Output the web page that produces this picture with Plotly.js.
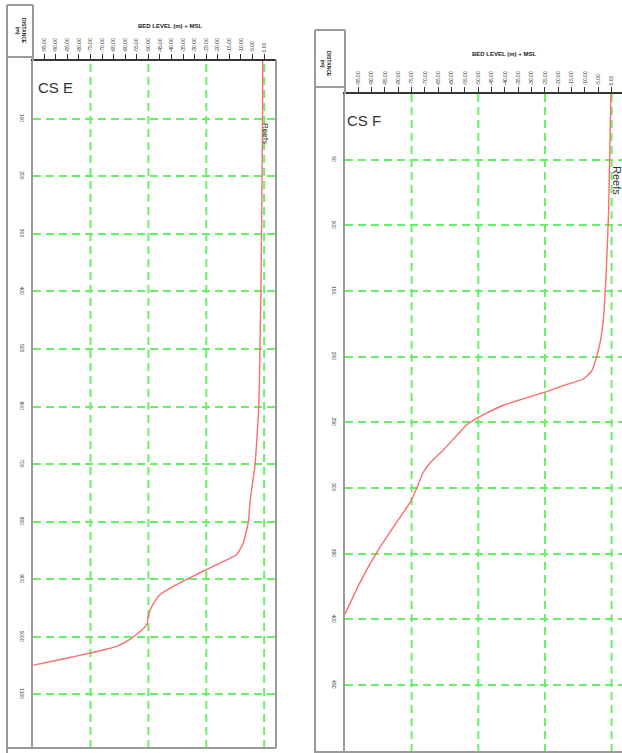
<!DOCTYPE html>
<html>
<head>
<meta charset="utf-8">
<script src="https://cdn.plot.ly/plotly-3.0.1.min.js"></script>
<style>html,body{margin:0;padding:0;background:#fff;}#chart{width:622px;height:753px;}</style>
</head>
<body>
<div id="chart"></div>
<script>
// ---- data ----
const levelTicks = [-95,-90,-85,-80,-75,-70,-65,-60,-55,-50,-45,-40,-35,-30,-25,-20,-15,-10,-5,0];
const levelGrid = [-75,-50,-25,0];
const distTicksE = [100,200,300,400,500,600,700,800,900,1000,1100];
const distTicksF = [50,100,150,200,250,300,350,400,450];

const csE_dist  = [0, 100, 200, 300, 400, 500, 600, 700, 762, 800, 836, 857, 869, 883, 897, 912, 926, 941, 961, 978, 990, 1004, 1016, 1028, 1038, 1049];
const csE_level = [-0.6, -0.7, -0.9, -1.1, -1.4, -1.8, -2.3, -3.9, -6.0, -6.8, -8.9, -11.8, -17.5, -24.7, -31.9, -39.1, -44.8, -47.7, -49.9, -50.6, -53.4, -57.8, -63.5, -75.0, -86.5, -99.6];

const csF_dist  = [0, 88, 130, 172, 187, 200, 211, 217, 222, 227, 232, 237, 243, 247, 252, 260, 271, 281, 288, 300, 311, 326, 349, 372, 396];
const csF_level = [-0.25, -1.1, -1.9, -3.1, -4.1, -5.6, -7.5, -10.6, -18.1, -25.0, -33.1, -40.6, -46.9, -50.6, -54.4, -58.1, -63.1, -68.1, -70.6, -73.1, -75.6, -80.6, -88.1, -94.4, -100.0];

// ---- layout helpers ----
const W = 622, H = 753;
const px = v => v / W;
const py = v => 1 - v / H;
const GREEN = '#66f066';
const RED = '#ff6b6b';
const FRAME = '#9a9a9a';
const DASH = '8px,5px';
const fmt = v => v.toFixed(2);

const traces = [
  {x: csE_level, y: csE_dist, xaxis: 'x', yaxis: 'y', mode: 'lines',
   line: {color: RED, width: 1.4, shape: 'spline', smoothing: 0.4}, hoverinfo: 'skip'},
  {x: csF_level, y: csF_dist, xaxis: 'x2', yaxis: 'y2', mode: 'lines',
   line: {color: RED, width: 1.4, shape: 'spline', smoothing: 0.5}, hoverinfo: 'skip'}
];

function xAx(domain, range, anchor) {
  return {domain: domain, range: range, anchor: anchor, side: 'top',
    tickmode: 'array', tickvals: levelTicks, ticktext: levelTicks.map(fmt),
    tickangle: -90, tickfont: {size: 5, color: '#333', family: 'Liberation Sans, Arial'},
    ticks: 'outside', ticklen: 5, tickcolor: '#333', tickwidth: 1,
    showline: true, linecolor: '#333', linewidth: 2.5,
    showgrid: false, zeroline: false, fixedrange: true};
}
function yAx(domain, range, anchor, vals) {
  return {domain: domain, range: range, anchor: anchor,
    tickmode: 'array', tickvals: vals, ticktext: vals.map(String),
    tickangle: 90, tickfont: {size: 5, color: '#333', family: 'Liberation Sans, Arial'},
    ticks: 'outside', ticklen: 5, tickcolor: 'rgba(0,0,0,0)',
    showline: true, linecolor: FRAME, linewidth: 2,
    showgrid: true, gridcolor: GREEN, gridwidth: 2, griddash: DASH,
    zeroline: false, fixedrange: true};
}

const shapes = [];
levelGrid.forEach(v => {
  ['x','x2'].forEach((ax, i) => {
    shapes.push({type: 'line', xref: ax, yref: (i === 0 ? 'y' : 'y2') + ' domain',
      x0: v, x1: v, y0: 0, y1: 1, layer: 'below',
      line: {color: GREEN, width: 2, dash: DASH}});
  });
});
function seg(x0, y0, x1, y1, w) {
  shapes.push({type: 'line', xref: 'paper', yref: 'paper',
    x0: px(x0), x1: px(x1), y0: py(y0), y1: py(y1),
    line: {color: FRAME, width: w || 2}});
}
// left panel frame
seg(7, 5, 7, 753); seg(7, 5, 33, 5); seg(7, 57, 33, 57); seg(33, 5, 33, 61);
seg(276, 60, 276, 748); seg(7, 748, 276, 748);
// right panel frame
seg(315, 30, 315, 753); seg(315, 30, 345, 30); seg(315, 87, 345, 87); seg(345, 30, 345, 94);
seg(315, 752, 622, 752);

function ann(text, x, y, opts) {
  return Object.assign({text: text, xref: 'paper', yref: 'paper', x: px(x), y: py(y),
    showarrow: false, xanchor: 'center', yanchor: 'middle',
    font: {size: 6, color: '#222', family: 'Liberation Sans, Arial'}}, opts || {});
}
const annotations = [
  ann('<b>BED LEVEL (m) + MSL</b>', 170, 26),
  ann('<b>BED LEVEL (m) + MSL</b>', 504, 54),
  ann('<b>DISTANCE<br>(m)</b>', 20, 31, {textangle: 90, font: {size: 5, color: '#222', family: 'Liberation Sans, Arial'}}),
  ann('<b>DISTANCE<br>(m)</b>', 326, 64, {textangle: 90, font: {size: 5, color: '#222', family: 'Liberation Sans, Arial'}}),
  ann('CS E', 36, 87, {xanchor: 'left', font: {size: 15, color: '#333', family: 'Liberation Sans, Arial'}}),
  ann('CS F', 345, 121, {xanchor: 'left', font: {size: 15, color: '#333', family: 'Liberation Sans, Arial'}}),
  ann('Reefs', 266, 133, {textangle: 90, font: {size: 8, color: '#333', family: 'Liberation Sans, Arial'}}),
  ann('Reefs', 617, 180, {textangle: 90, font: {size: 11, color: '#333', family: 'Liberation Sans, Arial'}})
];

const layout = {
  width: W, height: H, margin: {l: 0, r: 0, t: 0, b: 0, pad: 0},
  paper_bgcolor: '#fff', plot_bgcolor: '#fff', showlegend: false,
  xaxis: xAx([px(32.7), px(275.7)], [-100, 5], 'y'),
  yaxis: yAx([py(748), py(61)], [1193, 0], 'x', distTicksE),
  xaxis2: xAx([px(345), 1], [-100, 3.9], 'y2'),
  yaxis2: yAx([py(752), py(94)], [501, 0], 'x2', distTicksF),
  shapes: shapes, annotations: annotations
};

Plotly.newPlot('chart', traces, layout, {displayModeBar: false, staticPlot: true});
</script>
</body>
</html>
